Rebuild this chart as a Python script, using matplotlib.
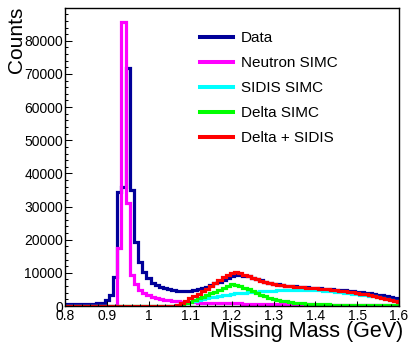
import numpy as np
import matplotlib
matplotlib.use("Agg")
import matplotlib.pyplot as plt
from matplotlib.ticker import MultipleLocator, FuncFormatter
from matplotlib.lines import Line2D

plt.rcParams['font.family'] = ['Liberation Sans', 'DejaVu Sans']

# bin centres 0.80 ... 1.60 (GeV), width 0.01
bin_width = 0.01
bin_centers = np.round(np.arange(0.80, 1.6001, 0.01), 3)

data_counts = [
    500, 500, 550, 600, 600, 650, 700, 750, 850, 1000,
    1800, 3300, 8700, 34500, 36000, 71700, 35000, 19400, 13300, 10300,
    8400, 6900, 6200, 5700, 5300, 5000, 4700, 4500, 4400, 4400,
    4500, 4700, 5000, 5400, 5800, 6300, 6800, 7300, 7800, 8400,
    8900, 9300, 9400, 9200, 8900, 8500, 8100, 7700, 7300, 7000,
    6700, 6500, 6300, 6100, 6000, 5900, 5800, 5700, 5600, 5500,
    5400, 5300, 5200, 5100, 5000, 4900, 4800, 4700, 4500, 4400,
    4200, 4100, 3900, 3800, 3600, 3400, 3200, 3000, 2700, 2400,
    2000]

neutron_simc = [
    0, 0, 0, 0, 0, 0, 0, 0, 0, 0,
    0, 0, 0, 17500, 85600, 31000, 9500, 6600, 4800, 3800,
    3200, 2800, 2400, 2100, 1900, 1700, 1500, 1400, 1300, 1200,
    1150, 1100, 1050, 1000, 950, 900, 880, 860, 840, 820,
    800, 780, 760, 740, 720, 700, 680, 660, 640, 620,
    600, 585, 570, 555, 540, 525, 510, 495, 480, 465,
    450, 440, 430, 420, 410, 400, 390, 380, 370, 360,
    350, 340, 330, 320, 310, 300, 290, 280, 270, 260,
    250]

sidis_simc = [
    0, 0, 0, 0, 0, 0, 0, 0, 0, 0,
    0, 0, 0, 0, 0, 0, 0, 0, 0, 0,
    0, 0, 0, 0, 0, 0, 0, 200, 600, 900,
    1200, 1500, 1800, 2100, 2400, 2600, 2800, 3000, 3200, 3400,
    3600, 3800, 3900, 4000, 4100, 4200, 4300, 4400, 4500, 4600,
    4650, 4700, 4750, 4800, 4850, 4900, 4900, 4900, 4850, 4800,
    4750, 4700, 4600, 4500, 4400, 4300, 4200, 4050, 3900, 3750,
    3600, 3450, 3300, 3100, 2900, 2600, 2300, 2000, 1700, 1400,
    1100]

delta_simc = [
    0, 0, 0, 0, 0, 0, 0, 0, 0, 0,
    0, 0, 0, 0, 0, 0, 0, 0, 0, 0,
    0, 0, 0, 0, 0, 0, 0, 0, 300, 800,
    1300, 1800, 2300, 2800, 3300, 3800, 4300, 4900, 5500, 6100,
    6500, 6400, 6000, 5500, 5000, 4400, 3900, 3400, 2900, 2500,
    2100, 1800, 1600, 1400, 1200, 1000, 900, 800, 700, 650,
    600, 550, 500, 480, 450, 420, 400, 380, 360, 340,
    320, 300, 290, 280, 270, 260, 250, 240, 230, 220,
    210]

delta_plus_sidis = [
    0, 0, 0, 0, 0, 0, 0, 0, 0, 0,
    0, 0, 0, 0, 0, 0, 0, 0, 0, 0,
    0, 0, 0, 0, 0, 0, 0, 300, 900, 1600,
    2300, 3000, 3700, 4400, 5200, 6100, 7000, 7900, 8700, 9500,
    10100, 10300, 10000, 9500, 9000, 8500, 8000, 7600, 7200, 6900,
    6600, 6400, 6200, 6000, 5900, 5800, 5700, 5600, 5500, 5400,
    5300, 5200, 5100, 5000, 4900, 4700, 4600, 4400, 4300, 4100,
    3900, 3700, 3500, 3300, 3100, 2800, 2500, 2200, 1900, 1600,
    1300]

series_labels = ["Data", "Neutron SIMC", "SIDIS SIMC", "Delta SIMC", "Delta + SIDIS"]
series_colors = ["#000099", "#ff00ff", "#00ffff", "#00ff00", "#ff0000"]
x_ticks = [0.8, 0.9, 1.0, 1.1, 1.2, 1.3, 1.4, 1.5, 1.6]
y_ticks = [0, 10000, 20000, 30000, 40000, 50000, 60000, 70000, 80000]

edges = np.concatenate([bin_centers - bin_width / 2, [bin_centers[-1] + bin_width / 2]])

W, H = 410, 342
fig = plt.figure(figsize=(W / 100, H / 100), dpi=100)
ax = fig.add_axes([65 / W, 1 - 306 / H, (399 - 65) / W, (306 - 8) / H])

all_series = [data_counts, neutron_simc, sidis_simc, delta_simc, delta_plus_sidis]
for vals, col in zip(all_series, series_colors):
    ax.stairs(vals, edges, color=col, lw=2.3, baseline=None)

ax.set_xlim(0.8, 1.6)
ax.set_ylim(0, 89900)
ax.set_xticks(x_ticks)
ax.set_yticks(y_ticks)
ax.xaxis.set_minor_locator(MultipleLocator(0.02))
ax.yaxis.set_minor_locator(MultipleLocator(2000))
ax.xaxis.set_major_formatter(FuncFormatter(lambda v, p: f"{v:g}"))
ax.yaxis.set_major_formatter(FuncFormatter(lambda v, p: f"{int(round(v))}"))
ax.tick_params(axis='both', which='both', direction='in', top=False, right=False,
               labelsize=10, width=0.75, colors='black')
ax.tick_params(axis='x', which='major', length=3.6, pad=2)
ax.tick_params(axis='x', which='minor', length=1.8)
ax.tick_params(axis='y', which='major', length=5, pad=1.5)
ax.tick_params(axis='y', which='minor', length=2.5)
for s in ax.spines.values():
    s.set_linewidth(1.0)
    s.set_color('black')

fig.text(16.5 / W, 1 - 7 / H, "Counts", rotation=90, ha='center', va='top', fontsize=15)
fig.text(403 / W, 1 - 337 / H, "Missing Mass (GeV)", ha='right', va='baseline', fontsize=15.5)

handles = [Line2D([], [], color=c, lw=2.9) for c in series_colors]
ax.legend(handles, series_labels, loc='upper left',
          bbox_to_anchor=(200 / W, 1 - 31 / H), bbox_transform=fig.transFigure,
          frameon=False, fontsize=11, handlelength=2.16, handletextpad=0.5,
          labelspacing=0.72, borderpad=0, borderaxespad=0)

fig.savefig("out.png", dpi=100)
